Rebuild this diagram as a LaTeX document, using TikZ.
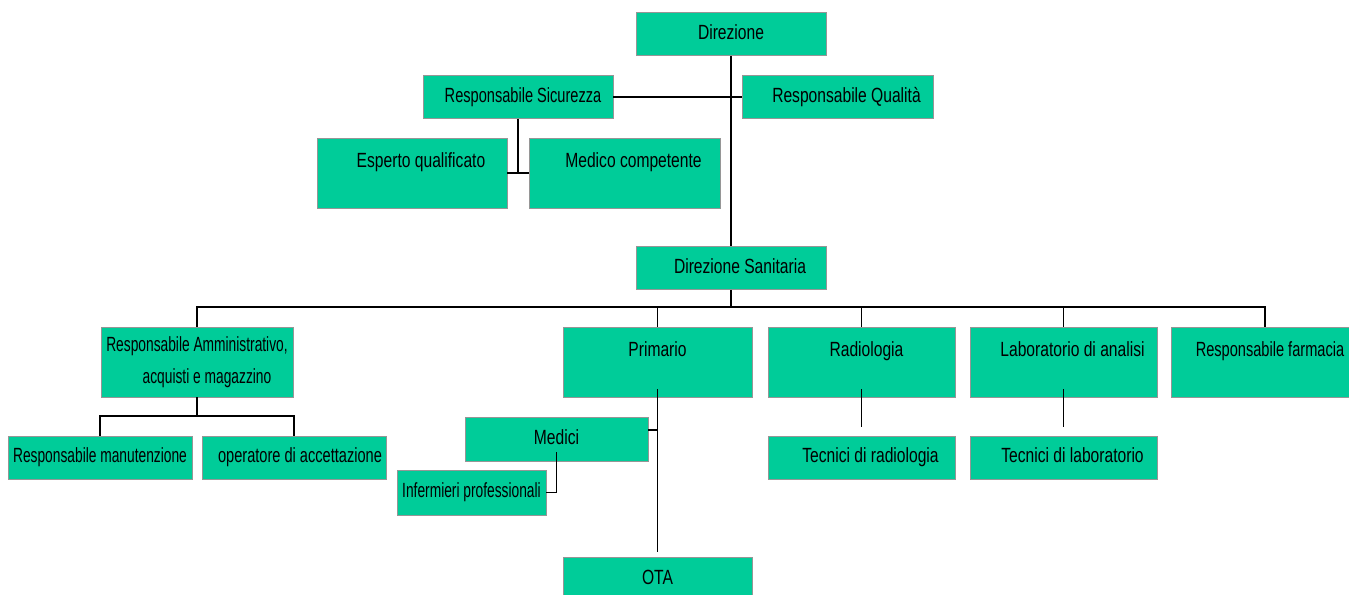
\documentclass[tikz,border=0pt]{standalone}
\usepackage{fontspec}
\usepackage{tikz}
\usetikzlibrary{positioning,calc}
\newfontfamily\orgfont[FakeStretch=0.76]{Liberation Sans}
\newfontfamily\orgfontM[FakeStretch=0.71]{Liberation Sans}
\newfontfamily\orgfontS[FakeStretch=0.67]{Liberation Sans}
\newcommand{\pad}[1][0.36cm]{\hspace*{#1}}
\definecolor{boxFill}{RGB}{0,204,153}
\definecolor{boxEdge}{RGB}{150,150,150}
\tikzset{
    orgbox/.style={
        draw=boxEdge,
        fill=boxFill,
        inner sep=0pt,
        minimum width=3.8cm,
        minimum height=0.86cm,
        font={\orgfont\fontsize{11.7}{18}\selectfont}
    },
    onerow/.style={
        orgbox,
        text height=0.3cm,
        text depth=0.09cm
    },
    tallbox/.style={
        orgbox,
        minimum height=1.4cm,
        text height=0.3cm,
        text depth=0.52cm
    },
    slim/.style={font={\orgfontM\fontsize{11.7}{18}\selectfont}},
    squeeze/.style={font={\orgfontS\fontsize{11.7}{18}\selectfont}},
    link/.style={
        draw=black,
        line width=0.6pt
    }
}

\begin{document}
\begin{tikzpicture}[x=0.02cm, y=-0.02cm]
    \useasboundingbox (0,0) rectangle (1349,595);
    \clip (0,0) rectangle (1349,595);

    % vertice
    \node[onerow] (dir) at (731,34) {Direzione};
    \node[onerow, slim] (sic) at (518,97) {\pad[0.2cm]Responsabile Sicurezza};
    \node[onerow, minimum width=3.82cm] (qual) at (837.5,97) {\pad Responsabile Qualità};
    \node[tallbox] (esperto) at (412,173) {\pad Esperto qualificato};
    \node[tallbox, minimum width=3.82cm] (medcomp) at (624.5,173) {\pad Medico competente};
    \node[onerow] (dirsan) at (731,268) {\pad Direzione Sanitaria};

    % secondo livello
    \node[orgbox, squeeze, minimum width=3.84cm, minimum height=1.4cm, align=center] (amm) at (197,362)
        {Responsabile Amministrativo,\\ \pad[0.4cm]acquisti e magazzino};
    \node[tallbox, minimum width=3.78cm] (prim) at (657.5,362) {Primario};
    \node[tallbox, minimum width=3.74cm] (radio) at (861.5,362) {\pad[0.2cm]Radiologia};
    \node[tallbox, minimum width=3.74cm] (lab) at (1063.5,362) {\pad Laboratorio di analisi};
    \node[tallbox, slim, minimum width=3.76cm] (farm) at (1265,362) {\pad[0.2cm]Responsabile farmacia};

    % terzo livello
    \node[onerow, squeeze, minimum width=3.68cm] (manut) at (100,457.5) {Responsabile manutenzione};
    \node[onerow, slim, minimum width=3.68cm] (oper) at (294,457.5) {\pad[0.24cm]operatore di accettazione};
    \node[onerow, minimum width=3.66cm, minimum height=0.88cm] (medici) at (556.5,439) {Medici};
    \node[onerow, squeeze, minimum width=2.98cm, minimum height=0.9cm] (inferm) at (471.5,492.5) {Infermieri professionali};
    \node[onerow, minimum width=3.78cm, minimum height=0.88cm] (ota) at (657.5,579) {OTA};
    \node[onerow, minimum width=3.74cm] (tecrad) at (861.5,457.5) {\pad Tecnici di radiologia};
    \node[onerow, minimum width=3.74cm] (teclab) at (1063.5,457.5) {\pad Tecnici di laboratorio};

    % collegamenti
    \coordinate (sanbus) at (731,307);
    \coordinate (ammbus) at (197,416);

    \draw[link] (dir.south) -- (dirsan.north);
    \draw[link] (sic.east) -- (qual.west);
    \draw[link] (sic.south) -- (sic.south |- esperto.east);
    \draw[link] (esperto.east) -- (medcomp.west);

    \draw[link] (dirsan.south) -- (sanbus);
    \foreach \n in {amm,prim,radio,lab,farm}
        \draw[link] (\n.north) |- (sanbus);

    \draw[link] (amm.south) -- (ammbus);
    \foreach \n in {manut,oper}
        \draw[link] (\n.north) |- (ammbus);

    \draw[link] ([yshift=0.16cm]prim.south) -- ([yshift=0.1cm]ota.north);
    \draw[link] ([yshift=0.18cm]medici.east) -| (prim.south);
    \draw[link] (inferm.east) -| ([yshift=0.18cm]medici.south);
    \draw[link] ([yshift=0.16cm]radio.south) -- ([yshift=0.18cm]tecrad.north);
    \draw[link] ([yshift=0.16cm]lab.south) -- ([yshift=0.18cm]teclab.north);
\end{tikzpicture}
\end{document}
